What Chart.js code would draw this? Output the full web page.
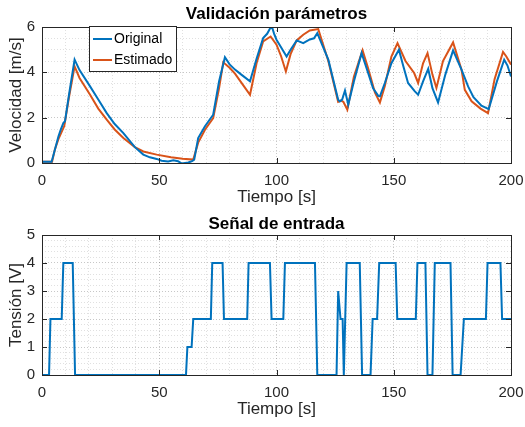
<!DOCTYPE html>
<html>
<head>
<meta charset="utf-8">
<script src="https://cdn.jsdelivr.net/npm/chart.js@4"></script>
<style>
  body { margin: 0; background: #fff; }
  #wrap { position: relative; width: 525px; height: 427px; }
  canvas { position: absolute; left: 0; }
</style>
</head>
<body>
<div id="wrap">
  <canvas id="top" width="525" height="210" style="top:0"></canvas>
  <canvas id="bot" width="525" height="217" style="top:210px"></canvas>
</div>
<script>
// velocidad original (medida)
const origT = [0, 4.1, 5, 7.0, 8.0, 9.1, 9.8, 11.5, 13.9, 16, 20.5, 24, 27.6, 31, 34.7, 39.6, 43.2, 46, 48.9, 51, 53.8, 56, 58, 59.5, 61, 62.4, 64, 64.9, 66.6, 69.5, 73.0, 75.5, 78.0, 80, 82.3, 85, 88.7, 91.5, 94.3, 96, 97.9, 99, 100, 102, 104.3, 106, 108.6, 111.4, 114.2, 116, 117.4, 122.1, 126.3, 127, 128, 129.2, 130.6, 133, 136.3, 139, 141.2, 143.4, 144.1, 146.2, 149, 152.2, 154, 156.1, 159, 160.4, 162.5, 164.7, 166.5, 168.9, 172, 175.3, 178.9, 181.7, 184, 187.4, 190.5, 194, 197.1, 198.5, 200];
const origV = [0.05, 0.05, 0.4, 1.17, 1.47, 1.76, 1.84, 3.0, 4.56, 4.1, 3.38, 2.8, 2.2, 1.72, 1.32, 0.7, 0.37, 0.25, 0.18, 0.1, 0.07, 0.12, 0.08, -0.02, 0.0, 0.02, 0.08, 0.15, 1.1, 1.62, 2.13, 3.6, 4.67, 4.35, 4.12, 3.9, 3.6, 4.6, 5.51, 5.7, 6.06, 5.7, 5.44, 5.1, 4.7, 5.0, 5.41, 5.29, 5.45, 5.5, 5.73, 4.56, 2.79, 2.72, 2.8, 3.2, 2.57, 3.6, 4.85, 4.0, 3.3, 2.96, 2.94, 3.53, 4.4, 5.0, 4.3, 3.53, 3.16, 3.01, 3.6, 4.15, 3.3, 2.67, 3.9, 4.97, 4.12, 3.38, 2.9, 2.53, 2.38, 3.6, 4.56, 4.3, 3.82];

// velocidad estimada (modelo)
const estT = [0, 4.3, 5.5, 7.0, 9.5, 11.5, 13.9, 16, 20.5, 24, 27.6, 31, 34.7, 39.6, 43.2, 48.9, 55, 60, 64.5, 66.6, 69.5, 73.0, 75.5, 77.3, 80, 82.3, 86, 88.7, 91.5, 94.3, 97.5, 100, 102, 104, 106, 108.6, 111.4, 114.2, 117.8, 122.1, 126.3, 127.5, 128.5, 130.2, 133, 136.7, 139, 142, 144.1, 146.2, 149, 151.6, 155, 158.7, 160.4, 162.5, 164.4, 166.5, 168.2, 171, 175.3, 178.9, 180.3, 183.2, 187, 190.2, 193, 196.6, 198, 200];
const estV = [0.05, 0.05, 0.6, 1.05, 1.63, 2.9, 4.26, 3.75, 3.01, 2.4, 1.91, 1.48, 1.10, 0.70, 0.51, 0.37, 0.25, 0.19, 0.15, 0.9, 1.47, 1.98, 3.3, 4.44, 4.2, 3.94, 3.4, 3.01, 4.4, 5.36, 5.58, 5.22, 4.7, 4.04, 4.8, 5.41, 5.66, 5.85, 5.91, 4.5, 2.7, 2.75, 2.7, 2.35, 3.8, 4.97, 4.2, 3.1, 2.67, 3.4, 4.7, 5.29, 4.5, 3.97, 3.53, 4.4, 4.85, 3.9, 3.31, 4.5, 5.32, 4.12, 3.23, 2.72, 2.4, 2.2, 3.7, 4.9, 4.7, 4.34];

// señal de entrada (tensión)
const inT = [0, 3.0, 3.6, 8.4, 9.1, 13.1, 14.1, 61.4, 62.0, 63.8, 64.5, 72.0, 72.6, 77.0, 77.6, 87.5, 88.1, 97.2, 97.9, 102.9, 103.6, 116.4, 117.4, 125.6, 126.3, 127.3, 128.2, 128.7, 129.9, 135.5, 136.5, 140.1, 141.0, 142.9, 143.8, 150.8, 151.5, 159.4, 160.1, 163.5, 164.4, 166.5, 167.5, 174.2, 175.1, 178.5, 179.9, 189.3, 190.0, 195.5, 196.2, 200];
const inV = [0, 0, 2, 2, 4, 4, 0, 0, 1, 1, 2, 2, 4, 4, 2, 2, 4, 4, 2, 2, 4, 4, 0, 0, 3, 2, 2, 0, 4, 4, 0, 0, 2, 2, 4, 4, 2, 2, 4, 4, 0, 0, 4, 4, 0, 0, 2, 2, 4, 4, 2, 2];

const xMajor = [0, 50, 100, 150, 200];
const yMajorTop = [0, 2, 4, 6];
const yMajorBot = [0, 1, 2, 3, 4, 5];

const BLUE = "#0072BD";
const ORANGE = "#D95319";
const AXC = "#262626";
const FONT = "'Liberation Sans', Arial, sans-serif";

function pts(t, v) {
    return t.map((x, i) => ({ x: x, y: v[i] }));
}

// marco tipo MATLAB: caja, ticks hacia dentro, titulo y leyenda
const matlabBox = {
    id: "matlabBox",
    afterDraw(chart, args, opts) {
        const ctx = chart.ctx;
        const a = chart.chartArea;
        const xs = chart.scales.x, ys = chart.scales.y;
        ctx.save();
        ctx.strokeStyle = AXC;
        ctx.lineWidth = 1;
        ctx.strokeRect(Math.round(a.left) + 0.5, Math.round(a.top) + 0.5,
            Math.round(a.right - a.left), Math.round(a.bottom - a.top));
        ctx.beginPath();
        opts.xticks.forEach(v => {
            const p = Math.round(xs.getPixelForValue(v)) + 0.5;
            ctx.moveTo(p, a.bottom); ctx.lineTo(p, a.bottom - 5);
            ctx.moveTo(p, a.top); ctx.lineTo(p, a.top + 5);
        });
        opts.yticks.forEach(v => {
            const p = Math.round(ys.getPixelForValue(v)) + 0.5;
            ctx.moveTo(a.left, p); ctx.lineTo(a.left + 5, p);
            ctx.moveTo(a.right, p); ctx.lineTo(a.right - 5, p);
        });
        ctx.stroke();

        // titulo
        ctx.fillStyle = "#000";
        ctx.font = "bold 17px " + FONT;
        ctx.textAlign = "center";
        ctx.textBaseline = "middle";
        ctx.fillText(opts.title, (a.left + a.right) / 2, opts.titleY);

        // leyenda
        if (opts.legend) {
            const L = opts.legend;
            ctx.fillStyle = "#fff";
            ctx.fillRect(L.x, L.y, L.w, L.h);
            ctx.strokeStyle = AXC;
            ctx.strokeRect(L.x + 0.5, L.y + 0.5, L.w, L.h);
            ctx.font = "14px " + FONT;
            ctx.textAlign = "left";
            chart.data.datasets.forEach((ds, i) => {
                const yy = L.y + 13 + i * 21;
                ctx.strokeStyle = ds.borderColor;
                ctx.lineWidth = 2;
                ctx.beginPath();
                ctx.moveTo(L.x + 4, yy); ctx.lineTo(L.x + 23, yy);
                ctx.stroke();
                ctx.fillStyle = "#000";
                ctx.fillText(ds.label, L.x + 25, yy);
            });
        }
        ctx.restore();
    }
};

function gridColor(c, step) {
    const v = c.tick.value;
    return Math.abs(v / step - Math.round(v / step)) < 1e-6 ? "rgba(0,0,0,0.22)" : "rgba(0,0,0,0.12)";
}

function makeOptions(ymax, ystep, yminor, ylabel, xh, opts) {
    return {
        responsive: false,
        animation: false,
        layout: { padding: { top: opts.top, right: 14, left: 0, bottom: 0 } },
        plugins: {
            legend: { display: false },
            tooltip: { enabled: false },
            matlabBox: opts.box
        },
        elements: { point: { radius: 0 }, line: { borderWidth: 2, tension: 0 } },
        scales: {
            x: {
                type: "linear",
                min: 0, max: 200,
                afterFit: (s) => { s.height = xh; s.paddingLeft = 0; s.paddingRight = 0; },
                ticks: {
                    stepSize: 10,
                    padding: 9,
                    color: AXC,
                    font: { family: FONT, size: 15 },
                    maxRotation: 0,
                    autoSkip: false,
                    callback: (v) => (v % 50 === 0 ? v : "")
                },
                grid: { drawTicks: false, color: (c) => gridColor(c, 50), lineWidth: 1 },
                border: { display: false, dash: [1, 2] },
                title: { display: true, text: "Tiempo [s]", color: AXC, font: { family: FONT, size: 17 }, padding: { top: 0, bottom: opts.xtPad } }
            },
            y: {
                min: 0, max: ymax,
                afterFit: (s) => { s.width = 42; s.paddingTop = 0; s.paddingBottom = 0; },
                ticks: {
                    stepSize: yminor,
                    padding: 7,
                    color: AXC,
                    font: { family: FONT, size: 15 },
                    autoSkip: false,
                    callback: (v) => (Math.abs(v / ystep - Math.round(v / ystep)) < 1e-6 ? v : "")
                },
                grid: { drawTicks: false, color: (c) => gridColor(c, ystep), lineWidth: 1 },
                border: { display: false, dash: [1, 2] },
                title: { display: true, text: ylabel, color: AXC, font: { family: FONT, size: 17 }, padding: { top: 6, bottom: 0 } }
            }
        }
    };
}

new Chart(document.getElementById("top"), {
    type: "line",
    data: {
        datasets: [
            { label: "Original", data: pts(origT, origV), borderColor: BLUE, backgroundColor: BLUE },
            { label: "Estimado", data: pts(estT, estV), borderColor: ORANGE, backgroundColor: ORANGE }
        ]
    },
    options: makeOptions(6, 2, 0.5, "Velocidad [m/s]", 47, {
        top: 27, xtPad: 2,
        box: {
            xticks: xMajor, yticks: yMajorTop,
            title: "Validación parámetros", titleY: 14,
            legend: { x: 89, y: 26, w: 87, h: 45 }
        }
    }),
    plugins: [matlabBox]
});

new Chart(document.getElementById("bot"), {
    type: "line",
    data: {
        datasets: [
            { label: "Entrada", data: pts(inT, inV), borderColor: BLUE, backgroundColor: BLUE }
        ]
    },
    options: makeOptions(5, 1, 0.2, "Tensión [V]", 52, {
        top: 25, xtPad: 7,
        box: {
            xticks: xMajor, yticks: yMajorBot,
            title: "Señal de entrada", titleY: 14,
            legend: null
        }
    }),
    plugins: [matlabBox]
});
</script>
</body>
</html>
